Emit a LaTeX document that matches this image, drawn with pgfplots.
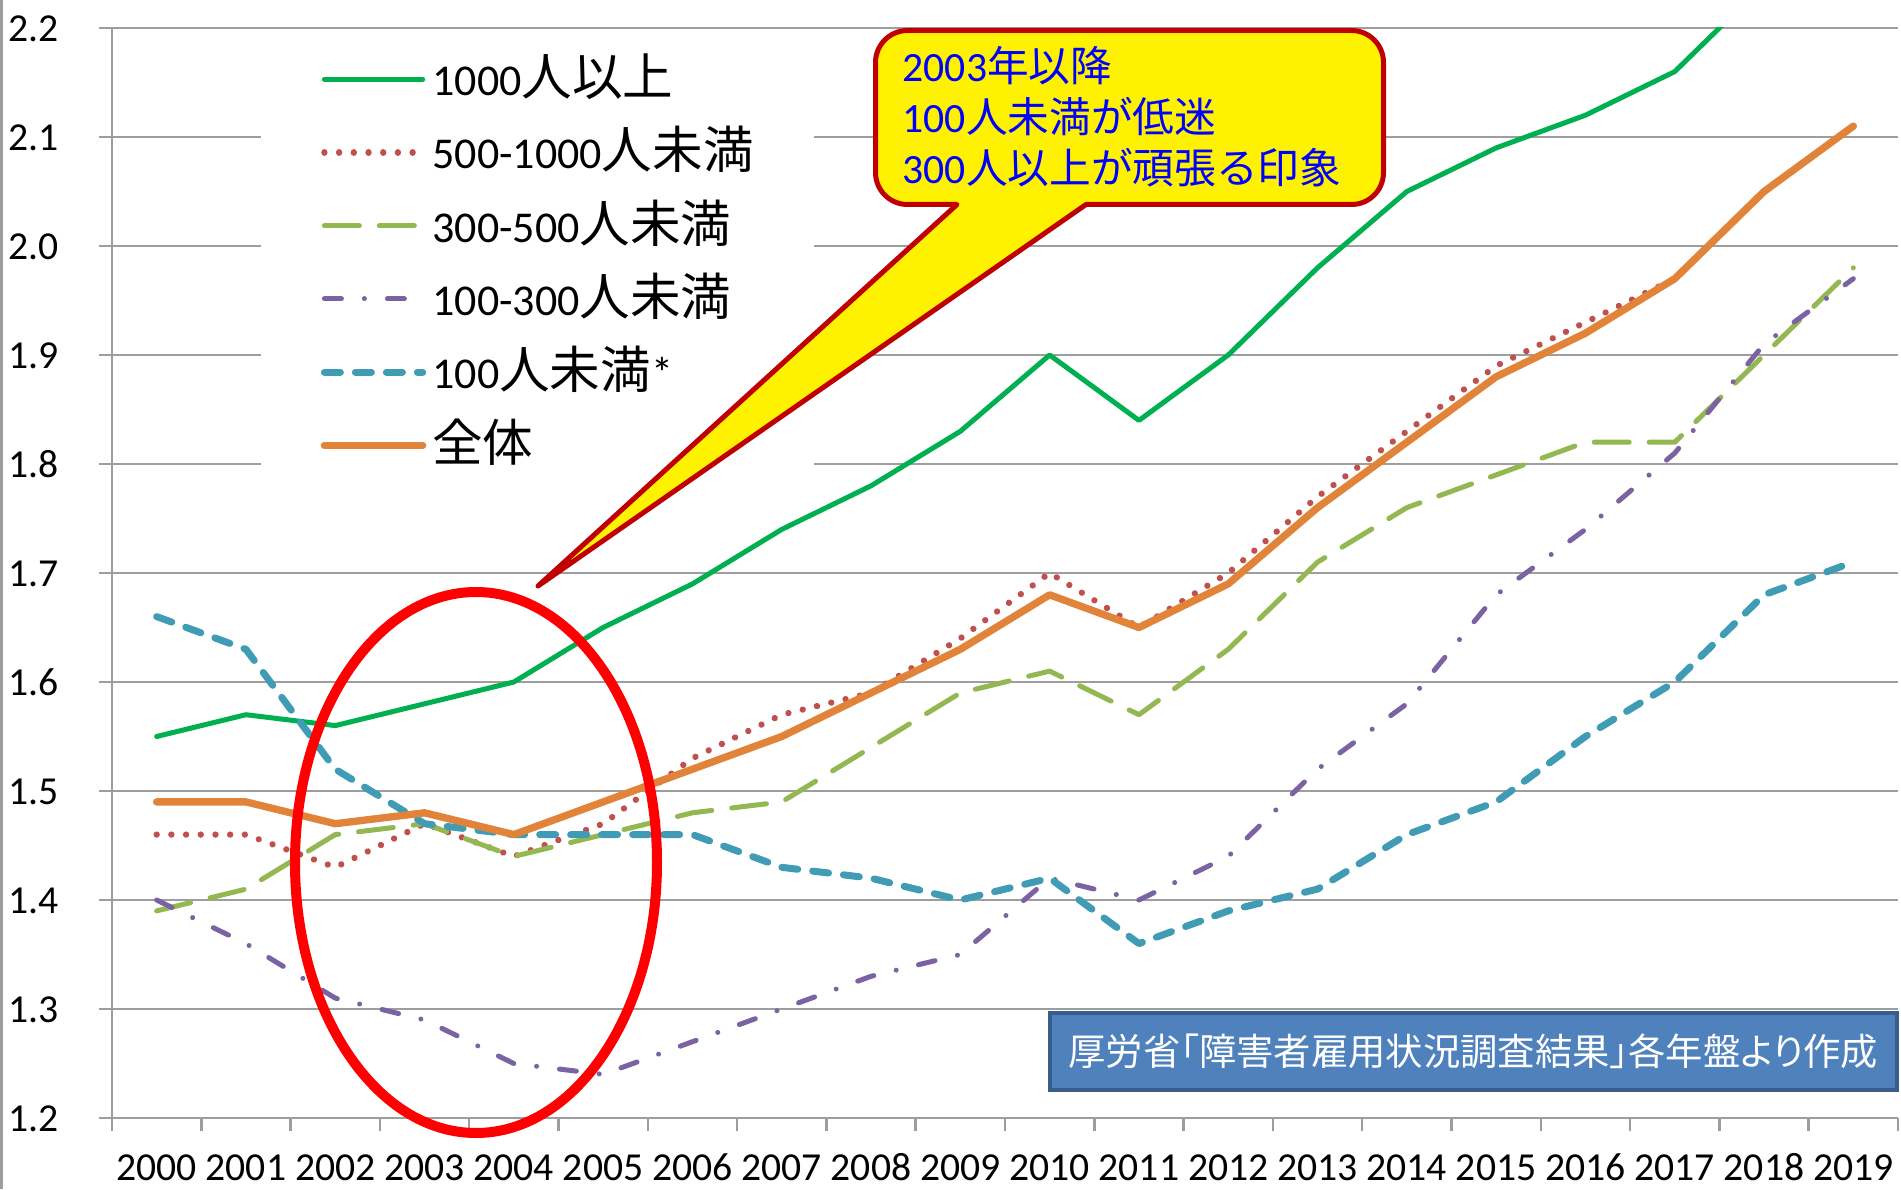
\documentclass[border=0pt]{standalone}
\usepackage{pgfplots}
\usepackage{pgfplotstable}
\pgfplotsset{compat=1.18}
\usepackage{fontspec}
\setmainfont{Carlito}
\newfontfamily\jp{Noto Sans CJK JP}
\newfontfamily\jpL{Noto Sans CJK JP}[Scale=1.15]
\newfontfamily\jpp{Noto Sans CJK JP}[RawFeature=+palt]

\definecolor{cGreen}{HTML}{00B050}
\definecolor{cRed}{HTML}{C0504D}
\definecolor{cOlive}{HTML}{93B852}
\definecolor{cPurple}{HTML}{7B62A3}
\definecolor{cBlue}{HTML}{409CB5}
\definecolor{cOrange}{HTML}{E1843A}
\definecolor{gridgray}{HTML}{9E9E9E}
\definecolor{calloutred}{HTML}{C00000}
\definecolor{srcfill}{HTML}{4F81BD}
\definecolor{srcborder}{HTML}{385D8A}

% x: 0 = 2000 ... 19 = 2019
\pgfplotstableread{
x  g1000 r500 o300 p100 b100 all
0  1.55  1.46 1.39 1.40 1.66 1.49
1  1.57  1.46 1.41 1.36 1.63 1.49
2  1.56  1.43 1.46 1.31 1.52 1.47
3  1.58  1.47 1.47 1.29 1.47 1.48
4  1.60  1.44 1.44 1.25 1.46 1.46
5  1.65  1.47 1.46 1.24 1.46 1.49
6  1.69  1.53 1.48 1.27 1.46 1.52
7  1.74  1.57 1.49 1.30 1.43 1.55
8  1.78  1.59 1.54 1.33 1.42 1.59
9  1.83  1.64 1.59 1.35 1.40 1.63
10 1.90  1.70 1.61 1.42 1.42 1.68
11 1.84  1.65 1.57 1.40 1.36 1.65
12 1.90  1.70 1.63 1.44 1.39 1.69
13 1.98  1.77 1.71 1.52 1.41 1.76
14 2.05  1.83 1.76 1.58 1.46 1.82
15 2.09  1.89 1.79 1.68 1.49 1.88
16 2.12  1.93 1.82 1.74 1.55 1.92
17 2.16  1.97 1.82 1.81 1.60 1.97
18 2.24  2.05 1.90 1.91 1.68 2.05
19 2.29  2.11 1.98 1.97 1.71 2.11
}\datatable

\begin{document}
\begin{tikzpicture}
\useasboundingbox (-33.6pt,-21.3pt) rectangle (536.7pt,335.4pt);
\begin{axis}[
    scale only axis,
    width=535.8pt, height=327pt,
    xmin=-0.5, xmax=19.5, ymin=1.2, ymax=2.2,
    axis x line*=bottom, axis y line*=left,
    axis line style={draw=gridgray, line width=0.75pt, -},
    ymajorgrids,
    grid style={draw=gridgray, line width=0.75pt},
    tick align=outside,
    major tick length=4pt,
    tick style={draw=gridgray, line width=0.75pt},
    xtick={-0.5,0.5,...,19.5},
    xticklabels={2000,2001,2002,2003,2004,2005,2006,2007,2008,2009,2010,2011,2012,2013,2014,2015,2016,2017,2018,2019,{}},
    xticklabel style={xshift=13.395pt, yshift=-3.1pt},
    ytick={1.2,1.3,1.4,1.5,1.6,1.7,1.8,1.9,2.0,2.1,2.2},
    yticklabels={1.2,1.3,1.4,1.5,1.6,1.7,1.8,1.9,2.0,2.1,2.2},
    yticklabel style={inner sep=0pt, xshift=-11.9pt},
    tick label style={font=\fontsize{11.9pt}{14pt}\selectfont, text=black,
        text height=8pt, text depth=0pt},
    legend cell align=left,
    legend image code/.code={\draw[#1] (0.3pt,1.9pt) -- (29.8pt,1.9pt);},
    legend style={at={(0.0829,0.989)}, anchor=north west, draw=none, fill=white,
        inner xsep=18pt, inner ysep=7.5pt, row sep=9.96pt, column sep=1.8pt,
        font=\fontsize{13.2pt}{15pt}\selectfont,
        nodes={inner sep=0pt, text height=9pt, text depth=3pt}},
    every axis plot/.append style={line join=round, line cap=round},
]
\addplot[cGreen, line width=1.5pt] table[x=x, y=g1000] {\datatable};
\addplot[cRed, line width=1.9pt, dash pattern=on 0.01pt off 4.4pt] table[x=x, y=r500] {\datatable};
\addplot[cOlive, line width=1.5pt, dash pattern=on 10.5pt off 6pt] table[x=x, y=o300] {\datatable};
\addplot[cPurple, line width=1.5pt, dash pattern=on 5.1pt off 6.9pt on 0.01pt off 6.9pt] table[x=x, y=p100] {\datatable};
\addplot[cBlue, line width=2.1pt, dash pattern=on 4.8pt off 4.5pt] table[x=x, y=b100] {\datatable};
\addplot[cOrange, line width=2.2pt] table[x=x, y=all] {\datatable};
\legend{{1000{\jpL 人以上}}, {500-1000{\jpL 人未満}}, {300-500{\jpL 人未満}}, {100-300{\jpL 人未満}}, {100{\jpL 人未満}*}, {{\jpL 全体}}}
\end{axis}

% left border of the chart area
\draw[gridgray, line width=0.9pt] (-33.15pt,-21.3pt) -- (-33.15pt,335.4pt);

% highlight ellipse
\draw[red, line width=3pt] (109.2pt,76.65pt) ellipse [x radius=54.3pt, y radius=81.15pt];

% callout: rounded box with a pointer, one outline
\filldraw[fill=yellow, draw=calloutred, line width=1.5pt, line join=round]
    (253.5pt,274.05pt) -- (127.8pt,159.6pt) -- (292.2pt,274.05pt)
    [rounded corners=9.6pt] -- (381.45pt,274.05pt) -- (381.45pt,326.25pt)
    -- (229.05pt,326.25pt) -- (229.05pt,274.05pt) [sharp corners] -- cycle;
\begin{scope}[every node/.style={anchor=base west, text=blue, inner sep=0pt,
    font=\fontsize{12.5pt}{14pt}\selectfont}]
\node at (237pt,310.8pt) {2003{\jp 年以降}};
\node at (237pt,295.5pt) {100{\jp 人未満が低迷}};
\node at (237pt,280.2pt) {300{\jp 人以上が頑張る印象}};
\end{scope}

% source box
\draw[fill=srcfill, draw=srcborder, line width=1.2pt] (281.4pt,8.4pt) rectangle (535.5pt,31.5pt);
\node[text=white, inner sep=0pt, font=\jpp\fontsize{11.2pt}{13pt}\selectfont] at (408.4pt,20pt)
    {厚労省「障害者雇用状況調査結果」各年盤より作成};
\end{tikzpicture}
\end{document}
